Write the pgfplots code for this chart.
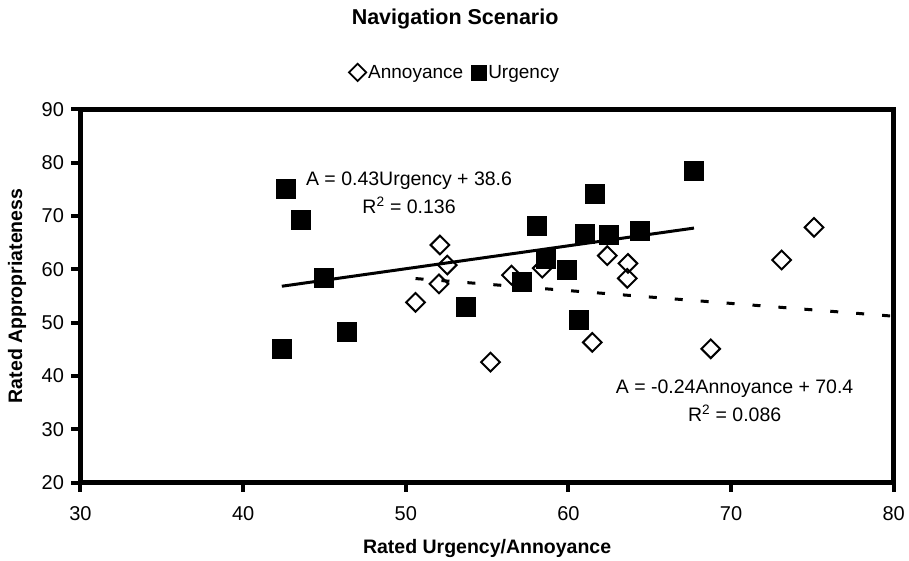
\documentclass[border=0pt]{standalone}
\usepackage{pgfplots}
\pgfplotsset{compat=1.18}
\usepackage{fontspec}
\setmainfont{Liberation Sans}

\begin{document}
\begin{tikzpicture}
\begin{axis}[
    name=ax,
    scale only axis,
    width=813.2pt, height=373.5pt,
    xmin=30, xmax=80, ymin=20, ymax=90,
    xtick={30,40,...,80}, ytick={20,30,...,90},
    axis line style={line width=5pt},
    xtick style={black, line width=4pt},
    ytick style={black, line width=4pt},
    tick align=outside,
    xtick pos=bottom, ytick pos=left,
    major tick length=9pt,
    /pgf/number format/assume math mode=true,
    ticklabel style={font=\fontsize{20}{24}\selectfont},
    xticklabel style={yshift=-11pt},
    yticklabel style={xshift=-4pt},
    xlabel={\bfseries Rated Urgency/Annoyance},
    ylabel={\bfseries Rated Appropriateness},
    xlabel style={font=\fontsize{19.5}{23}\selectfont, at={(axis description cs:0.5,-0.177)}, anchor=center},
    ylabel style={font=\fontsize{19.5}{23}\selectfont, at={(axis description cs:-0.0779,0.5)}, anchor=center},
    legend style={draw=none, at={(axis description cs:0.4605,1.0985)}, anchor=center,
        font=\fontsize{19}{23}\selectfont, inner sep=0pt,
        /tikz/every even column/.append style={column sep=6pt}},
    legend columns=2,
    clip=false,
]
% trend lines
\addplot[forget plot, black, line width=3pt, dash pattern=on 8pt off 18pt] coordinates {(50.60,58.26) (80,51.2)};
\addplot[forget plot, black, line width=3pt] coordinates {(42.38,56.82) (67.72,67.72)};

% Annoyance
\addplot[forget plot, only marks, mark=square, mark size=6.6pt,
    mark options={rotate=45, draw=black, fill=white, line width=2pt}] coordinates {
(52.10,64.55) (52.55,60.8) (52.04,57.25) (50.60,53.8) (55.21,42.6) (56.50,58.9) (58.39,60.2)
(62.39,62.55) (63.66,61.1) (63.62,58.3) (61.47,46.3) (75.10,67.86) (73.11,61.74) (68.75,45.1)};

% Urgency
\addplot[forget plot, only marks, mark=square*, mark size=9.5pt,
    mark options={draw=black, fill=black, line width=0.5pt}] coordinates {
(42.65,75.0) (43.57,69.2) (44.97,58.5) (46.34,48.3) (42.38,45.1) (53.68,53.0) (58.03,68.2) (61.59,74.1)
(61.02,66.6) (62.51,66.4) (64.40,67.2) (58.58,62.0) (59.87,60.0) (57.10,57.7) (60.65,50.5) (67.72,78.4)};

\addlegendimage{only marks, mark=square, mark size=6.1pt, mark options={rotate=45, draw=black, fill=white, line width=1.8pt}}
\addlegendentry{Annoyance}
\addlegendimage{only marks, mark=square*, mark size=7.5pt, mark options={draw=black, fill=black}}
\addlegendentry{Urgency}

\node[align=center, font=\fontsize{19.5}{28}\selectfont] at (axis cs:50.20,74.30)
    {A = 0.43Urgency + 38.6\\R\textsuperscript{2} = 0.136};
\node[align=center, font=\fontsize{19.5}{28}\selectfont] at (axis cs:70.22,35.31)
    {A = -0.24Annoyance + 70.4\\R\textsuperscript{2} = 0.086};
\end{axis}
\node[font=\fontsize{21.5}{26}\selectfont\bfseries] at ([shift={(-32pt,90pt)}]ax.north) {Navigation Scenario};
\pgfresetboundingbox
\path ([shift={(-80.5pt,-77.3pt)}]ax.south west) rectangle ([shift={(15.3pt,109.2pt)}]ax.north east);
\end{tikzpicture}
\end{document}
